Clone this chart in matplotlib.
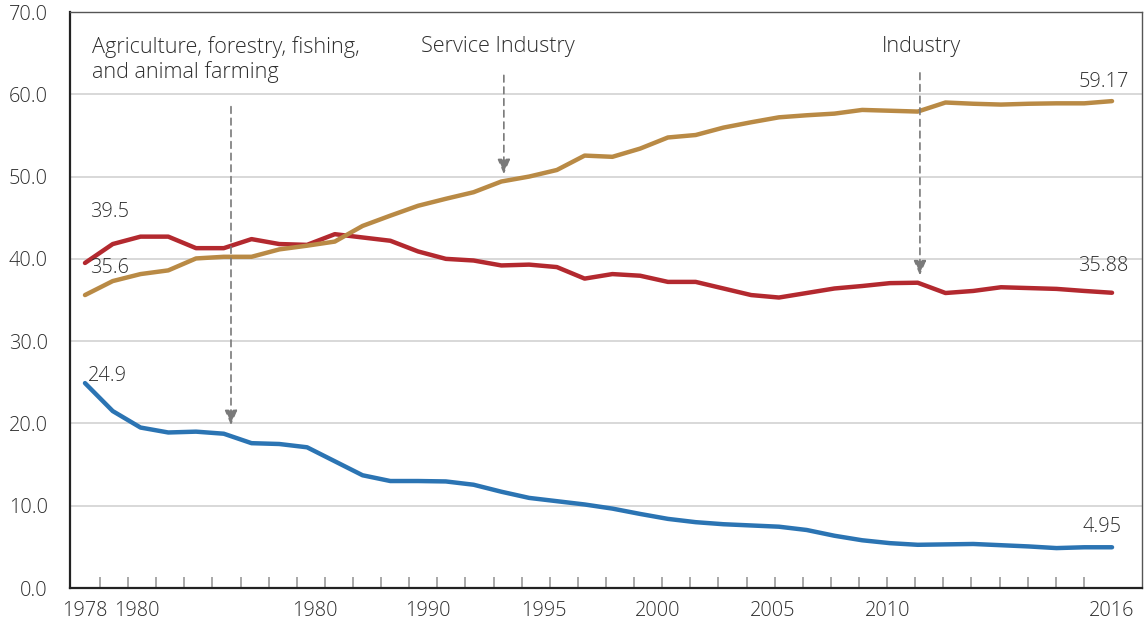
import matplotlib
matplotlib.use("Agg")
import matplotlib.pyplot as plt
import numpy as np

# Share of GDP by sector (%), one value per period along the x axis
agriculture = [24.9, 21.5, 19.5, 18.9, 19.0, 18.75, 17.6, 17.5, 17.1, 15.4,
               13.7, 13.0, 13.0, 12.95, 12.55, 11.7, 10.95, 10.55, 10.15, 9.65,
               9.0, 8.4, 8.0, 7.75, 7.6, 7.45, 7.05, 6.35, 5.8, 5.45,
               5.25, 5.3, 5.35, 5.2, 5.05, 4.85, 4.95, 4.95]
industry = [39.5, 41.8, 42.7, 42.7, 41.3, 41.3, 42.4, 41.8, 41.7, 43.0,
            42.6, 42.2, 40.9, 40.0, 39.8, 39.2, 39.3, 39.0, 37.6, 38.15,
            37.95, 37.2, 37.2, 36.4, 35.6, 35.3, 35.85, 36.4, 36.7, 37.05,
            37.1, 35.85, 36.1, 36.55, 36.45, 36.35, 36.1, 35.88]
service = [35.6, 37.3, 38.15, 38.6, 40.05, 40.25, 40.25, 41.15, 41.6, 42.1,
           44.0, 45.25, 46.45, 47.3, 48.1, 49.4, 50.0, 50.8, 52.55, 52.4,
           53.4, 54.75, 55.05, 55.95, 56.6, 57.2, 57.45, 57.65, 58.1, 58.0,
           57.9, 59.0, 58.85, 58.75, 58.85, 58.9, 58.9, 59.17]

year_labels = ["1978", "1980", "1980", "1990", "1995", "2000", "2005", "2010", "2016"]
y_ticks = [0, 10, 20, 30, 40, 50, 60, 70]

plt.rcParams["font.family"] = ["Open Sans", "DejaVu Sans"]
plt.rcParams["font.weight"] = "light"
TEXT = "#2e2e2e"
FS = 14.3       # numbers
FS_CAP = 15.6   # sector captions

BLUE = "#2b74b3"
RED = "#b3292f"
GOLD = "#b98a45"

fig = plt.figure(figsize=(11.45, 6.27), dpi=100)
ax = fig.add_axes([70 / 1145, 39 / 627, 1072 / 1145, 576 / 627])

x = np.arange(len(agriculture))
for series, colour in ((agriculture, BLUE), (industry, RED), (service, GOLD)):
    ax.plot(x, series, color=colour, lw=3.2, solid_joinstyle="round",
            solid_capstyle="round", zorder=3)

ax.set_xlim(-0.54, 38.08)
ax.set_ylim(0, 70)

# y axis
ax.set_yticks(y_ticks)
ax.set_yticklabels([f"{v:.1f}" for v in y_ticks], fontsize=FS, color=TEXT)
ax.tick_params(axis="y", length=0, pad=16)
for v in y_ticks[1:-1]:
    ax.axhline(v, color="#d2d2d2", lw=1.2, zorder=1)

# x axis: small inside marks plus period labels
ax.set_xticks(np.linspace(0.54, 37.0, 37), minor=True)
ax.tick_params(axis="x", which="minor", direction="in", length=8, width=1.4,
               color="#a8a8a8", bottom=True)
label_pos = [0.0, 1.87, 8.29, 12.35, 16.54, 20.64, 24.78, 28.93, 37.0]
ax.set_xticks(label_pos)
ax.set_xticklabels(year_labels, fontsize=FS, color=TEXT)
ax.tick_params(axis="x", which="major", length=0, pad=9)

for side in ("left", "bottom"):
    ax.spines[side].set_linewidth(1.6)
    ax.spines[side].set_color("#222222")
for side in ("top", "right"):
    ax.spines[side].set_linewidth(1.0)
    ax.spines[side].set_color("#555555")

# value labels at the series ends
ax.text(0.18, 45.7, f"{industry[0]:.1f}", fontsize=FS, color=TEXT, va="center", ha="left")
ax.text(0.18, 38.9, f"{service[0]:.1f}", fontsize=FS, color=TEXT, va="center", ha="left")
ax.text(0.1, 25.8, f"{agriculture[0]:.1f}", fontsize=FS, color=TEXT, va="center", ha="left")
ax.text(37.6, 61.5, f"{service[-1]:.2f}", fontsize=FS, color=TEXT, va="center", ha="right")
ax.text(37.6, 39.1, f"{industry[-1]:.2f}", fontsize=FS, color=TEXT, va="center", ha="right")
ax.text(37.35, 7.4, f"{agriculture[-1]:.2f}", fontsize=FS, color=TEXT, va="center", ha="right")

# sector captions with dashed pointer arrows
ax.text(0.25, 64.2, "Agriculture, forestry, fishing,\nand animal farming", fontsize=FS_CAP,
        color=TEXT, va="center", ha="left", linespacing=1.2)
ax.text(12.1, 65.8, "Service Industry", fontsize=FS_CAP, color=TEXT, va="center", ha="left")
ax.text(28.7, 65.8, "Industry", fontsize=FS_CAP, color=TEXT, va="center", ha="left")

arrow_style = dict(arrowstyle="-|>,head_length=0.9,head_width=0.38", color="#7a7a7a",
                   lw=1.2, linestyle=(0, (4, 3)), shrinkA=0, shrinkB=0)
for xa, ytop, ytip in [(5.26, 58.5, 19.8), (15.09, 62.3, 50.3), (30.08, 62.6, 38.0)]:
    ax.annotate("", xy=(xa, ytip), xytext=(xa, ytop), arrowprops=arrow_style, zorder=4)

fig.savefig("out.png", dpi=100)
